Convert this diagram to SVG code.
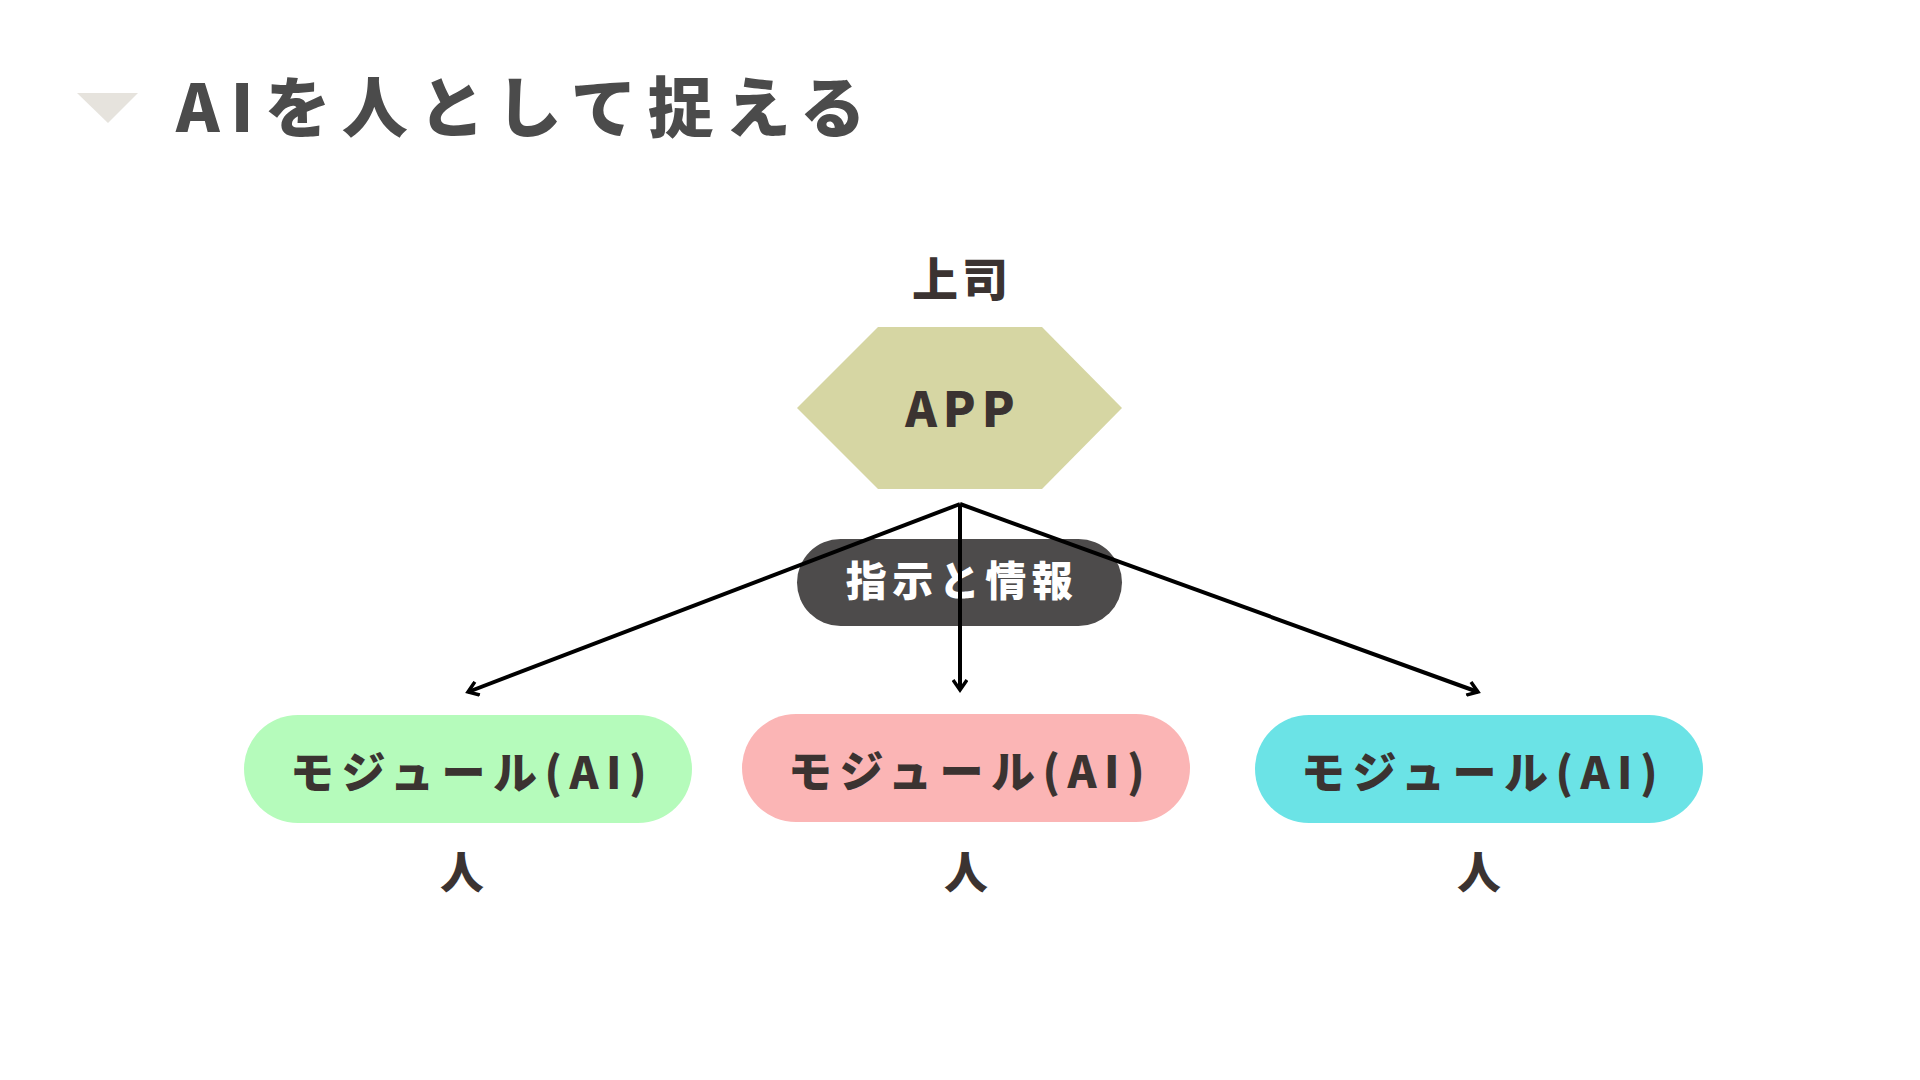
<svg xmlns="http://www.w3.org/2000/svg" width="1920" height="1080" viewBox="0 0 1920 1080">
<style>
.t{font-family:"Noto Sans CJK JP","Noto Sans",sans-serif;font-weight:900;fill:#3b3331;text-anchor:middle}
.title{font-family:"Noto Sans CJK JP","Noto Sans",sans-serif;font-weight:900;fill:#4b4b4b;font-size:66px;letter-spacing:11px}
.mod{font-size:44px;letter-spacing:7.5px}
.person{font-size:44px}
.edge{stroke:#000;stroke-width:4;fill:none;marker-end:url(#arr)}
</style>
<defs>
<marker id="arr" markerWidth="16" markerHeight="16" refX="12" refY="8" orient="auto" markerUnits="userSpaceOnUse">
<path d="M2,1 L12,8 L2,15" fill="none" stroke="#000" stroke-width="3.5"/>
</marker>
</defs>
<rect width="1920" height="1080" fill="#fff"/>
<g id="title">
<polygon points="77,93 138,93 108,123" fill="#e6e3dd"/>
<text class="title" x="176" y="132">AIを人として捉える</text>
</g>
<g id="boss">
<text class="t" x="962" y="296" font-size="46" letter-spacing="4">上司</text>
<polygon points="797,408 878,327 1042,327 1122,408 1042,489 878,489" fill="#d6d6a3"/>
<text class="t" x="963" y="427" font-size="48" letter-spacing="6">APP</text>
</g>
<g id="label">
<rect x="797" y="539" width="325" height="87" rx="43.5" fill="#4d4b4b"/>
<text class="t" x="962" y="596" font-size="41" letter-spacing="5.5" style="fill:#fff">指示と情報</text>
</g>
<g id="connectors">
<line class="edge" x1="960" y1="504" x2="468" y2="692"/>
<line class="edge" x1="960" y1="504" x2="960" y2="690"/>
<line class="edge" x1="960" y1="504" x2="1478" y2="692"/>
</g>
<g id="module1">
<rect x="244" y="715" width="448" height="108" rx="54" fill="#b5fbbb"/>
<text class="t mod" x="472" y="789">モジュール(AI)</text>
<text class="t person" x="462" y="889">人</text>
</g>
<g id="module2">
<rect x="742" y="714" width="448" height="108" rx="54" fill="#fbb5b5"/>
<text class="t mod" x="970" y="788">モジュール(AI)</text>
<text class="t person" x="966" y="889">人</text>
</g>
<g id="module3">
<rect x="1255" y="715" width="448" height="108" rx="54" fill="#6be3e6"/>
<text class="t mod" x="1483" y="789">モジュール(AI)</text>
<text class="t person" x="1479" y="889">人</text>
</g>
</svg>
